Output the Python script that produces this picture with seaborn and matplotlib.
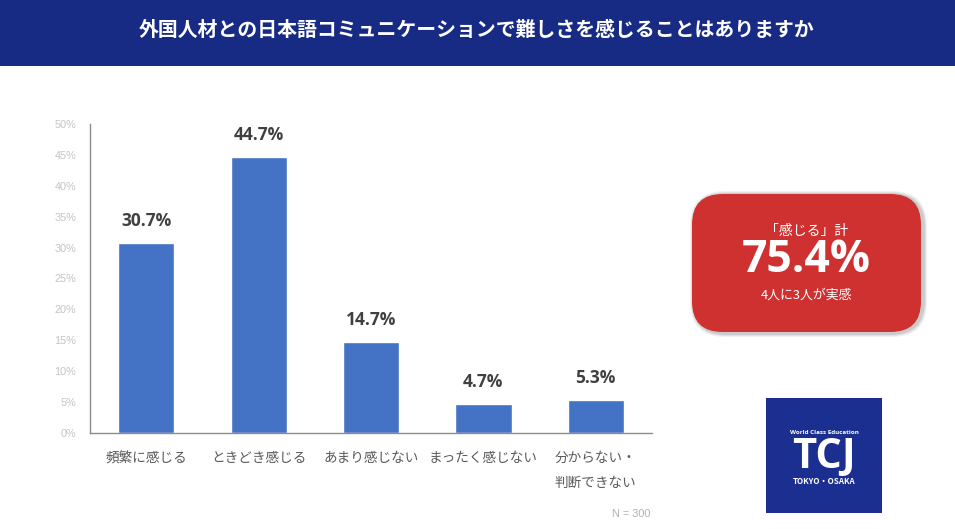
import matplotlib
matplotlib.use("Agg")
import matplotlib.pyplot as plt
from matplotlib.patches import FancyBboxPatch, Rectangle
import seaborn as sns
import pandas as pd

categories = ["頻繁に感じる", "ときどき感じる", "あまり感じない", "まったく感じない", "分からない・\n判断できない"]
values = [30.7, 44.7, 14.7, 4.7, 5.3]
yticks = [0, 5, 10, 15, 20, 25, 30, 35, 40, 45, 50]
title = "外国人材との日本語コミュニケーションで難しさを感じることはありますか"
box_head = "「感じる」計"
box_value = "75.4%"
box_sub = "4人に3人が実感"
note = "N = 300"

sns.set_theme(style="white")
plt.rcParams['font.family'] = ['Noto Sans CJK JP', 'DejaVu Sans']

W, H = 955, 529
fig = plt.figure(figsize=(W / 100, H / 100), dpi=100)
fig.patch.set_facecolor("white")

def fx(px): return px / W
def fy(py): return 1 - py / H

# Title bar
fig.patches.append(Rectangle((0, fy(66)), 1, 66 / H, transform=fig.transFigure,
                             facecolor="#182b84", edgecolor="none", zorder=0))
fig.text(fx(477), fy(29), title, color="white", fontsize=14.3, fontweight="bold",
         ha="center", va="center")

# Bar chart
ax = fig.add_axes([fx(90), fy(433), fx(652) - fx(90), (433 - 124) / H])
df = pd.DataFrame({"cat": categories, "val": values})
sns.barplot(data=df, x="cat", y="val", color="#4472c4", saturation=1, width=0.5, ax=ax)
ax.set_xlim(-0.5, len(categories) - 0.5)
ax.set_ylim(0, 50)
ax.set_yticks(yticks)
ax.set_yticklabels([f"{t}%" for t in yticks], color="#c4c4c4", fontsize=7.8,
                   family=['Liberation Sans', 'DejaVu Sans'])
ax.set_xlabel("")
ax.set_ylabel("")
ax.tick_params(axis="x", length=0, pad=13, labelsize=9.8, labelcolor="#595959")
ax.tick_params(axis="y", length=0, pad=10)
for lab in ax.get_xticklabels():
    lab.set_linespacing(2.0)
    lab.set_va("top")
for s in ["top", "right"]:
    ax.spines[s].set_visible(False)
for s in ["left", "bottom"]:
    ax.spines[s].set_color("#8c8c8c")
    ax.spines[s].set_linewidth(1)
for i, v in enumerate(values):
    ax.text(i, v + 2.1, f"{v}%", ha="center", va="bottom", fontsize=12.5,
            fontweight="bold", color="#404040", family=['Open Sans', 'DejaVu Sans'])
ax.patch.set_alpha(0)

# Red callout box with shadow
bx0, by0, bx1, by1 = 692, 194, 921, 332
for k, a in [(4, 0.05), (3, 0.07), (2, 0.09)]:
    shadow = FancyBboxPatch((fx(bx0 - k + 2), fy(by1 + k + 1)), fx(bx1 - bx0 + 2 * k), (by1 - by0 + 2 * k) / H,
                            boxstyle="round,pad=0,rounding_size=0.036",
                            transform=fig.transFigure, facecolor="#000000", alpha=a,
                            edgecolor="none", mutation_aspect=W / H)
    fig.patches.append(shadow)
box = FancyBboxPatch((fx(bx0), fy(by1)), fx(bx1 - bx0), (by1 - by0) / H,
                     boxstyle="round,pad=0,rounding_size=0.032",
                     transform=fig.transFigure, facecolor="#cf3131",
                     edgecolor="none", mutation_aspect=W / H)
fig.patches.append(box)
cx = (bx0 + bx1) / 2
fig.text(fx(cx), fy(231), box_head, color="white", fontsize=10, ha="center", va="center")
fig.text(fx(cx), fy(261), box_value, color="white", fontsize=32, fontweight="bold",
         ha="center", va="center", family=['Open Sans', 'DejaVu Sans'])
fig.text(fx(cx), fy(295), box_sub, color="white", fontsize=9.3, ha="center", va="center")

# Logo
lx0, ly0, lx1, ly1 = 766, 398, 882, 513
fig.patches.append(Rectangle((fx(lx0), fy(ly1)), fx(lx1 - lx0), (ly1 - ly0) / H,
                             transform=fig.transFigure, facecolor="#1a2f8f", edgecolor="none"))
lcx = (lx0 + lx1) / 2
fig.text(fx(lcx), fy(433), "World Class Education", color="white", fontsize=4.5,
         fontweight="bold", ha="center", va="center", family=['Open Sans', 'DejaVu Sans'])
fig.text(fx(lcx), fy(457), "TCJ", color="white", fontsize=30, fontweight="bold",
         ha="center", va="center", family=['Open Sans', 'DejaVu Sans'])
fig.text(fx(lcx), fy(482), "TOKYO・OSAKA", color="white", fontsize=5.8, fontweight="bold",
         ha="center", va="center")

fig.text(fx(650), fy(514), note, color="#b0b0b0", fontsize=7.8, ha="right", va="center",
         family=['Liberation Sans', 'DejaVu Sans'])

fig.savefig("out.png", dpi=100, facecolor="white")
